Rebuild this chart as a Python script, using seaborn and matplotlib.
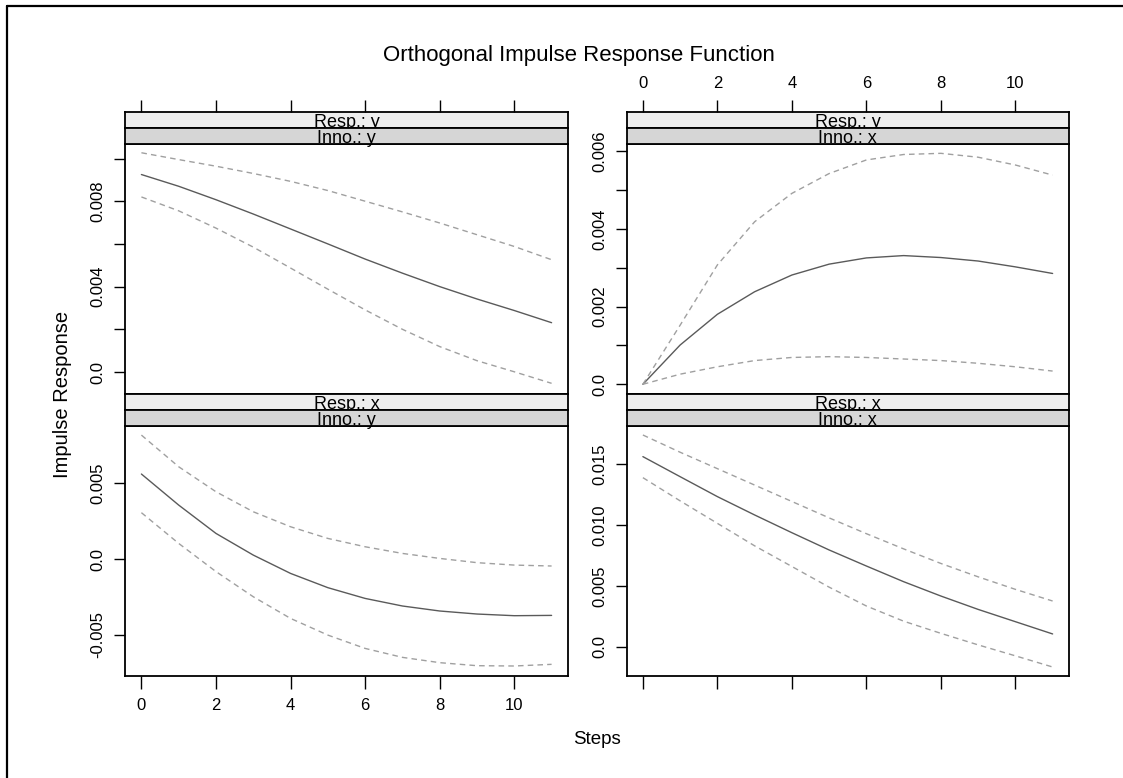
import seaborn as sns
import matplotlib.pyplot as plt
from matplotlib.lines import Line2D
import pandas as pd

# impulse response data (steps 0..11)
steps = list(range(12))

yy_irf = [0.00925, 0.0087, 0.00807, 0.0074, 0.0067, 0.0060, 0.00529, 0.00463, 0.0040, 0.00342, 0.00288, 0.00231]
yy_upper = [0.01027, 0.00995, 0.00964, 0.0093, 0.00893, 0.0085, 0.0080, 0.0075, 0.00698, 0.00643, 0.00588, 0.00526]
yy_lower = [0.0082, 0.00755, 0.00674, 0.00585, 0.00487, 0.00388, 0.00291, 0.0020, 0.00119, 0.00053, 0.00001, -0.00053]

yx_irf = [0.0, 0.00101, 0.0018, 0.00238, 0.00281, 0.00309, 0.00325, 0.00331, 0.00326, 0.00317, 0.00302, 0.00285]
yx_upper = [0.0, 0.00152, 0.00307, 0.00418, 0.00491, 0.00542, 0.00577, 0.00591, 0.00594, 0.00584, 0.00564, 0.00538]
yx_lower = [0.0, 0.00026, 0.00045, 0.00061, 0.00069, 0.00071, 0.00069, 0.00065, 0.00061, 0.00054, 0.00045, 0.00034]

xy_irf = [0.00561, 0.00356, 0.00169, 0.00026, -0.00095, -0.00189, -0.0026, -0.0031, -0.00343, -0.00363, -0.00374, -0.00372]
xy_upper = [0.00818, 0.00609, 0.00444, 0.00312, 0.00213, 0.00136, 0.00081, 0.00037, 0.00004, -0.00024, -0.0004, -0.00046]
xy_lower = [0.00306, 0.00103, -0.00083, -0.00249, -0.00392, -0.00502, -0.0059, -0.00649, -0.00684, -0.00704, -0.00706, -0.00695]

xx_irf = [0.01564, 0.01399, 0.01235, 0.01084, 0.00938, 0.00796, 0.00664, 0.00535, 0.00417, 0.00307, 0.00206, 0.00105]
xx_upper = [0.01742, 0.016, 0.01465, 0.0133, 0.01195, 0.0106, 0.0093, 0.00805, 0.00685, 0.00575, 0.00472, 0.00376]
xx_lower = [0.01391, 0.012, 0.01015, 0.0083, 0.0066, 0.0049, 0.00335, 0.0021, 0.0011, 0.00015, -0.00075, -0.00167]

resp_labels = ['Resp.: y', 'Resp.: y', 'Resp.: x', 'Resp.: x']
inno_labels = ['Inno.: y', 'Inno.: x', 'Inno.: y', 'Inno.: x']

sns.set_style('white')
plt.rcParams['font.family'] = ['Liberation Sans', 'DejaVu Sans']
plt.rcParams['text.color'] = 'black'
plt.rcParams['xtick.color'] = 'black'
plt.rcParams['ytick.color'] = 'black'
plt.rcParams['axes.labelcolor'] = 'black'

W, H = 1123, 778
fig = plt.figure(figsize=(W / 100, H / 100), dpi=100)


def box(x0, y0, x1, y1):
    return [x0 / W, 1 - y1 / H, (x1 - x0) / W, (y1 - y0) / H]


cols = [(125, 568), (626.5, 1069)]
rows = [(144, 394), (426, 676)]
strip_rows = [((112, 128), (128, 144)), ((394, 410), (410, 426))]

panels = [
    (0, 0, yy_irf, yy_upper, yy_lower, (-0.00103, 0.01068),
     [0, 0.002, 0.004, 0.006, 0.008, 0.010], ['0.0', '', '0.004', '', '0.008', '']),
    (1, 0, yx_irf, yx_upper, yx_lower, (-0.00025, 0.00618),
     [0, 0.001, 0.002, 0.003, 0.004, 0.005, 0.006], ['0.0', '', '0.002', '', '0.004', '', '0.006']),
    (0, 1, xy_irf, xy_upper, xy_lower, (-0.00772, 0.00878),
     [-0.005, 0, 0.005], ['-0.005', '0.0', '0.005']),
    (1, 1, xx_irf, xx_upper, xx_lower, (-0.00241, 0.01816),
     [0, 0.005, 0.010, 0.015], ['0.0', '0.005', '0.010', '0.015']),
]

xticks = [0, 2, 4, 6, 8, 10]
xlim = (-0.44, 11.44)
tick_fs = 12

for i, (c, r, irf, upper, lower, ylim, yt, ytl) in enumerate(panels):
    x0, x1 = cols[c]
    y0, y1 = rows[r]
    ax = fig.add_axes(box(x0, y0, x1, y1))
    df = pd.DataFrame({'step': steps, 'irf': irf, 'upper': upper, 'lower': lower})
    sns.lineplot(data=df, x='step', y='irf', ax=ax, color='#5a5a5a', lw=1)
    sns.lineplot(data=df, x='step', y='upper', ax=ax, color='#a0a0a0', lw=1, linestyle=(0, (4, 3)))
    sns.lineplot(data=df, x='step', y='lower', ax=ax, color='#a0a0a0', lw=1, linestyle=(0, (4, 3)))
    ax.set_xlim(xlim)
    ax.set_ylim(ylim)
    ax.set_xlabel('')
    ax.set_ylabel('')
    ax.set_yticks(yt)
    ax.set_yticklabels(ytl, rotation=90, va='center', fontsize=tick_fs)
    ax.tick_params(axis='y', left=True, direction='out', length=8, width=1, pad=6, colors='black')
    for s in ax.spines.values():
        s.set_color('black')
        s.set_linewidth(1.3)
    if r == 1:
        ax.set_xticks(xticks)
        ax.tick_params(axis='x', bottom=True, direction='out', length=9, width=1, pad=7,
                       labelsize=tick_fs, labelbottom=(c == 0))
    else:
        ax.set_xticks([])

    # strips
    (sa0, sa1), (sb0, sb1) = strip_rows[r]
    for (s0, s1), label, fc, top in [((sa0, sa1), resp_labels[i], '#eeeeee', True),
                                     ((sb0, sb1), inno_labels[i], '#d6d6d6', False)]:
        sax = fig.add_axes(box(x0, s0, x1, s1))
        sax.set_facecolor(fc)
        sax.set_xlim(xlim)
        sax.set_yticks([])
        for s in sax.spines.values():
            s.set_color('black')
            s.set_linewidth(1.3)
        sax.text(0.5, 0.06, label, transform=sax.transAxes, ha='center', va='baseline', fontsize=13)
        if top and r == 0:
            sax.set_xticks(xticks)
            sax.tick_params(axis='x', bottom=False, labelbottom=False, top=True, labeltop=(c == 1),
                            direction='out', length=9, width=1, pad=6, labelsize=tick_fs)
        else:
            sax.set_xticks([])

fig.text(579 / W, 1 - 55 / H, 'Orthogonal Impulse Response Function', ha='center', va='center', fontsize=16)
fig.text(62 / W, 1 - 394 / H, 'Impulse Response', ha='center', va='center', rotation=90, fontsize=14.5)
fig.text(597 / W, 1 - 740 / H, 'Steps', ha='center', va='center', fontsize=13.5)

# outer frame (left and top edges only are visible)
fig.add_artist(Line2D([7 / W, 7 / W], [0, 1 - 6 / H], transform=fig.transFigure, color='black', lw=1.6))
fig.add_artist(Line2D([7 / W, 1], [1 - 6 / H, 1 - 6 / H], transform=fig.transFigure, color='black', lw=1.6))

fig.savefig('out.png', dpi=100)
